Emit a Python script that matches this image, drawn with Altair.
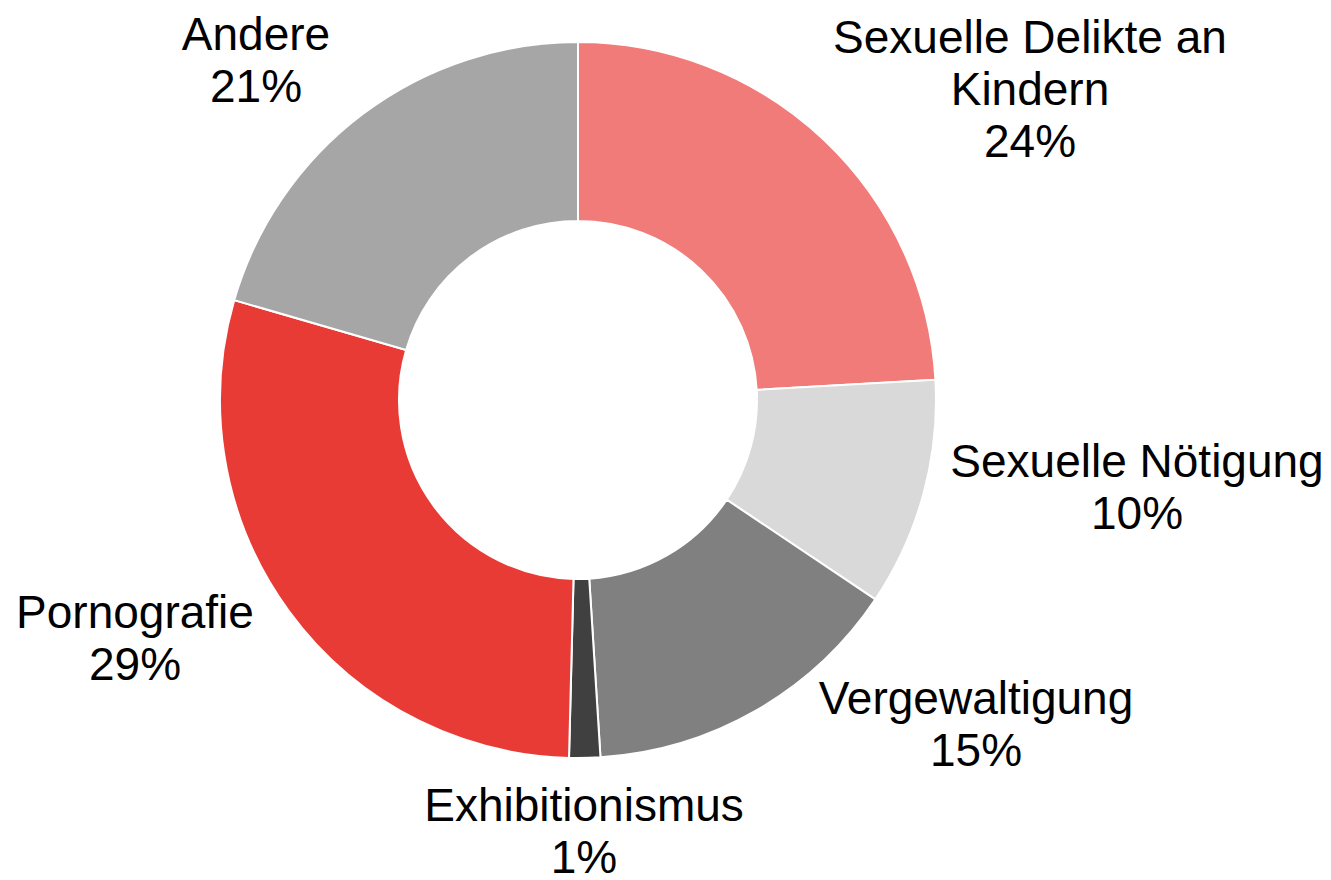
import altair as alt
import pandas as pd

# ---- data ----
categories = ["Sexuelle Delikte an Kindern", "Sexuelle Nötigung", "Vergewaltigung",
              "Exhibitionismus", "Pornografie", "Andere"]
shares = [24.1, 10.3, 14.6, 1.4, 29.1, 20.5]
pct_labels = ["24%", "10%", "15%", "1%", "29%", "21%"]
label_names = ["Sexuelle Delikte an\nKindern", "Sexuelle Nötigung", "Vergewaltigung",
               "Exhibitionismus", "Pornografie", "Andere"]
colors = ["#F07B78", "#D9D9D9", "#808080", "#404040", "#E83B36", "#A6A6A6"]

# ---- layout (label anchors: centre x, first-line baseline y, in chart px) ----
label_x = [1022, 1129, 968, 576, 127, 248]
label_y = [45, 469, 706, 813, 620, 42]
CX, CY = 570, 392

df = pd.DataFrame({"category": categories, "share": shares, "idx": list(range(len(categories)))})
lab = pd.DataFrame({
    "text": [f"{n}\n{p}" for n, p in zip(label_names, pct_labels)],
    "lx": label_x,
    "ly": label_y,
})

arcs = alt.Chart(df).mark_arc(
    outerRadius=358, innerRadius=179, stroke="white", strokeWidth=2
).encode(
    theta=alt.Theta("share:Q", stack=True),
    color=alt.Color("category:N", scale=alt.Scale(domain=categories, range=colors), legend=None),
    order=alt.Order("idx:Q"),
    x=alt.value(CX),
    y=alt.value(CY),
)

labels = alt.Chart(lab).mark_text(
    fontSize=46, font="Liberation Sans", lineBreak="\n", align="center",
    baseline="alphabetic", lineHeight=52, color="black"
).encode(
    x=alt.X("lx:Q", scale=None),
    y=alt.Y("ly:Q", scale=None),
    text="text:N",
)

chart = alt.layer(arcs, labels).properties(
    width=1315, height=870, padding=0, autosize=alt.AutoSizeParams(type="none")
).configure_view(stroke=None)

chart.save("out.html", embed_options={"renderer": "svg", "actions": False})
